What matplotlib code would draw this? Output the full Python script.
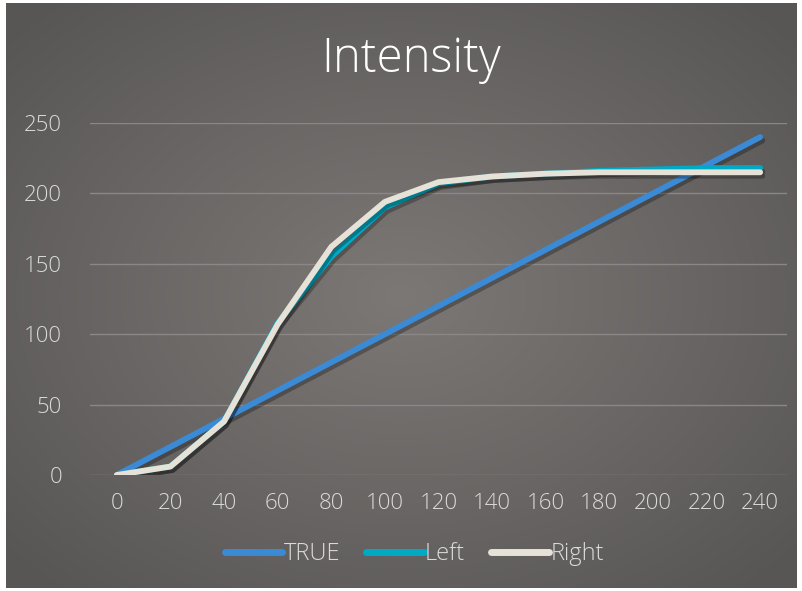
import numpy as np
import matplotlib.pyplot as plt
import matplotlib.patheffects as pe

# data
x = [0, 20, 40, 60, 80, 100, 120, 140, 160, 180, 200, 220, 240]
true_vals = [0, 20, 40, 60, 80, 100, 120, 140, 160, 180, 200, 220, 240]
left_vals = [0, 6, 38, 108, 155, 190, 207, 212, 214, 216, 217, 218, 218]
right_vals = [0, 6, 38, 107, 162, 194, 208, 212, 214, 215, 215, 215, 215]
series_names = ['TRUE', 'Left', 'Right']
colors = ['#3a8ad6', '#00a9c4', '#e6e2d8']

plt.rcParams['font.family'] = ['Open Sans', 'DejaVu Sans']

fig = plt.figure(figsize=(8.03, 5.91), dpi=100, facecolor='white')

# background panel with radial gradient
bg = fig.add_axes([6 / 803, 3 / 591, 791 / 803, 585 / 591])
gx, gy = np.meshgrid(np.linspace(-1, 1, 400), np.linspace(-1, 1, 300))
r = np.clip(np.sqrt(gx ** 2 + gy ** 2) / 1.35, 0, 1)
c0 = np.array([0x7c, 0x78, 0x76]) / 255
c1 = np.array([0x58, 0x56, 0x55]) / 255
img = c0[None, None, :] * (1 - r[..., None]) + c1[None, None, :] * r[..., None]
bg.imshow(img, aspect='auto', extent=[0, 1, 0, 1])
bg.set_axis_off()

ax = fig.add_axes([90 / 803, 116 / 591, 697 / 803, 352 / 591])
ax.set_facecolor('none')

shadow = [pe.SimpleLineShadow(offset=(1.5, -2.5), shadow_color='black', alpha=0.28), pe.Normal()]
for vals, name, col in zip([true_vals, left_vals, right_vals], series_names, colors):
    ax.plot(x, vals, color=col, lw=4.2, label=name, solid_capstyle='round',
            solid_joinstyle='round', path_effects=shadow)

ax.set_xlim(-10, 250)
ax.set_ylim(0, 250)
ax.set_xticks(x)
ax.set_yticks(range(0, 251, 50))
ax.grid(axis='y', color='#8a8786', lw=1)
ax.set_axisbelow(True)
for s in ax.spines.values():
    s.set_visible(False)
ax.tick_params(length=0, labelsize=16, colors='#dcdad8')
ax.tick_params(axis='x', pad=13)
ax.tick_params(axis='y', pad=20)
for lab in ax.get_xticklabels() + ax.get_yticklabels():
    lab.set_fontweight('light')

fig.text(0.512, 0.899, 'Intensity', ha='center', va='center', fontsize=34,
         color='white', fontweight='light')

leg = ax.legend(loc='center', bbox_to_anchor=(0.465, -0.225), ncol=3, frameon=False,
                fontsize=17, handlelength=2.45, handletextpad=0.05, columnspacing=1.1)
for t in leg.get_texts():
    t.set_color('#dcdad8')
    t.set_fontweight('light')
for h in leg.get_lines():
    h.set_path_effects([])
    h.set_linewidth(5)

fig.savefig('out.png', dpi=100, facecolor='white')
